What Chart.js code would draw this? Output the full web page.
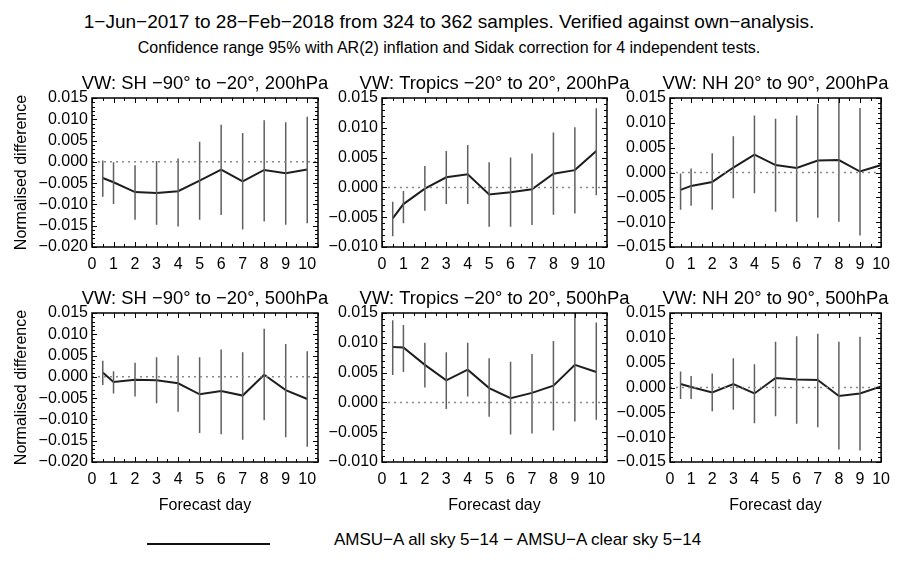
<!DOCTYPE html>
<html><head><meta charset="utf-8">
<script src="https://cdn.jsdelivr.net/npm/chart.js@4.4.1/dist/chart.umd.min.js"></script>
<style>
html,body{margin:0;padding:0;background:#fff;}
body{width:898px;height:563px;position:relative;overflow:hidden;font-family:"Liberation Sans",Arial,sans-serif;color:#000;}
canvas{position:absolute;}
.t{position:absolute;left:0;width:898px;text-align:center;white-space:nowrap;}
</style></head><body>
<div class="t" style="top:11px;font-size:19px;line-height:22px;">1−Jun−2017 to 28−Feb−2018 from 324 to 362 samples. Verified against own−analysis.</div>
<div class="t" style="top:39px;font-size:16px;line-height:18px;">Confidence range 95% with AR(2) inflation and Sidak correction for 4 independent tests.</div>
<div style="position:absolute;left:147px;top:543px;width:123px;height:2px;background:#111;"></div>
<div style="position:absolute;left:334px;top:530px;font-size:17px;line-height:20px;white-space:nowrap;">AMSU−A all sky 5−14 − AMSU−A clear sky 5−14</div>
<script>
// ---------- data ----------
const days = [0.5, 1, 2, 3, 4, 5, 6, 7, 8, 9, 10];
const xTickLabels = [0, 1, 2, 3, 4, 5, 6, 7, 8, 9, 10];

const titles = [
  "VW: SH −90° to −20°, 200hPa",
  "VW: Tropics −20° to 20°, 200hPa",
  "VW: NH 20° to 90°, 200hPa",
  "VW: SH −90° to −20°, 500hPa",
  "VW: Tropics −20° to 20°, 500hPa",
  "VW: NH 20° to 90°, 500hPa"
];

const meanSH200 = [-0.0038, -0.0048, -0.0071, -0.0073, -0.0069, -0.0044, -0.0018, -0.0046, -0.0019, -0.0027, -0.0018];
const loSH200   = [-0.0082, -0.0099, -0.0136, -0.0148, -0.0152, -0.0136, -0.0125, -0.0159, -0.0140, -0.0148, -0.0144];
const hiSH200   = [ 0.0003, -0.0001, -0.0008,  0.0002,  0.0008,  0.0047,  0.0087,  0.0068,  0.0098,  0.0093,  0.0106];

const meanTR200 = [-0.0052, -0.0028, -0.0002,  0.0017,  0.0022, -0.0012, -0.0008, -0.0003,  0.0023,  0.0029,  0.0061];
const loTR200   = [-0.0082, -0.0060, -0.0039, -0.0028, -0.0028, -0.0066, -0.0066, -0.0063, -0.0046, -0.0044, -0.0013];
const hiTR200   = [-0.0024, -0.0006,  0.0036,  0.0061,  0.0071,  0.0042,  0.0050,  0.0057,  0.0092,  0.0101,  0.0133];

const meanNH200 = [-0.0035, -0.0027, -0.0019,  0.0010,  0.0036,  0.0015,  0.0009,  0.0024,  0.0025,  0.0002,  0.0015];
const loNH200   = [-0.0075, -0.0067, -0.0075, -0.0052, -0.0042, -0.0079, -0.0099, -0.0091, -0.0099, -0.0127, -0.0114];
const hiNH200   = [-0.0002,  0.0008,  0.0039,  0.0073,  0.0115,  0.0108,  0.0115,  0.0138,  0.0152,  0.0130,  0.0152];

const meanSH500 = [ 0.0010, -0.0012, -0.0007, -0.0008, -0.0015, -0.0041, -0.0033, -0.0044,  0.0005, -0.0031, -0.0052];
const loSH500   = [-0.0019, -0.0039, -0.0046, -0.0062, -0.0082, -0.0132, -0.0135, -0.0148, -0.0102, -0.0142, -0.0164];
const hiSH500   = [ 0.0038,  0.0013,  0.0033,  0.0046,  0.0050,  0.0046,  0.0064,  0.0058,  0.0113,  0.0077,  0.0060];

const meanTR500 = [ 0.0093,  0.0092,  0.0063,  0.0037,  0.0055,  0.0024,  0.0007,  0.0016,  0.0028,  0.0063,  0.0051];
const loTR500   = [ 0.0046,  0.0051,  0.0025, -0.0011,  0.0010, -0.0024, -0.0054, -0.0052, -0.0047, -0.0032, -0.0029];
const hiTR500   = [ 0.0138,  0.0130,  0.0100,  0.0084,  0.0100,  0.0074,  0.0068,  0.0081,  0.0103,  0.0152,  0.0134];

const meanNH500 = [ 0.0007,  0.0001, -0.0010,  0.0007, -0.0012,  0.0019,  0.0016,  0.0015, -0.0017, -0.0012,  0.0002];
const loNH500   = [-0.0023, -0.0023, -0.0048, -0.0045, -0.0072, -0.0058, -0.0073, -0.0080, -0.0125, -0.0127, -0.0110];
const hiNH500   = [ 0.0032,  0.0023,  0.0028,  0.0059,  0.0047,  0.0092,  0.0103,  0.0108,  0.0092,  0.0102,  0.0115];

const yTicksSH = [-0.020, -0.015, -0.010, -0.005, 0.000, 0.005, 0.010, 0.015];
const yTicksTR = [-0.010, -0.005, 0.000, 0.005, 0.010, 0.015];
const yTicksNH = [-0.015, -0.010, -0.005, 0.000, 0.005, 0.010, 0.015];

const xMaxWide = 10.5;
const xMaxEdge = 10;

// ---------- layout ----------
const FONT = '"Liberation Sans", Arial, sans-serif';
const panels = [
  {mean: meanSH200, lo: loSH200, hi: hiSH200, yt: yTicksSH, xmax: xMaxWide, left: 0,   top: 73,  yw: 92, rp: 17, w: 335, row: 0, col: 0},
  {mean: meanTR200, lo: loTR200, hi: hiTR200, yt: yTicksTR, xmax: xMaxWide, left: 322, top: 73,  yw: 60, rp: 33, w: 318, row: 0, col: 1},
  {mean: meanNH200, lo: loNH200, hi: hiNH200, yt: yTicksNH, xmax: xMaxEdge, left: 610, top: 73,  yw: 60, rp: 13, w: 288, row: 0, col: 2},
  {mean: meanSH500, lo: loSH500, hi: hiSH500, yt: yTicksSH, xmax: xMaxWide, left: 0,   top: 288, yw: 92, rp: 17, w: 335, row: 1, col: 0},
  {mean: meanTR500, lo: loTR500, hi: hiTR500, yt: yTicksTR, xmax: xMaxWide, left: 322, top: 288, yw: 60, rp: 33, w: 318, row: 1, col: 1},
  {mean: meanNH500, lo: loNH500, hi: hiNH500, yt: yTicksNH, xmax: xMaxEdge, left: 610, top: 288, yw: 60, rp: 13, w: 288, row: 1, col: 2}
];

const boxPlugin = {
  id: 'boxTicks',
  afterDatasetsDraw(chart, args, opts) {
    const {ctx, chartArea: a, scales: {x, y}} = chart;
    ctx.save();
    ctx.strokeStyle = '#000';
    ctx.lineWidth = 1;
    ctx.beginPath();
    for (let k = 0; k <= Math.round(x.max * 2); k++) {
      const v = k / 2;
      const px = Math.round(x.getPixelForValue(v)) + 0.5;
      const len = (k % 2 === 0) ? 5 : 3;
      ctx.moveTo(px, a.bottom); ctx.lineTo(px, a.bottom - len);
      ctx.moveTo(px, a.top); ctx.lineTo(px, a.top + len);
    }
    const steps = Math.round((y.max - y.min) / 0.001);
    for (let k = 0; k <= steps; k++) {
      const v = y.min + k * 0.001;
      const py = Math.round(y.getPixelForValue(v)) + 0.5;
      const len = (k % 5 === 0) ? 5 : 3;
      ctx.moveTo(a.left, py); ctx.lineTo(a.left + len, py);
      ctx.moveTo(a.right, py); ctx.lineTo(a.right - len, py);
    }
    ctx.stroke();
    ctx.lineWidth = 1.5;
    ctx.strokeRect(a.left, a.top, a.right - a.left, a.bottom - a.top);
    ctx.fillStyle = '#000';
    ctx.font = '18.4px ' + FONT;
    ctx.textAlign = 'center';
    ctx.textBaseline = 'alphabetic';
    ctx.fillText(opts.text, (a.left + a.right) / 2, a.top - 9);
    ctx.restore();
  }
};

const fmtY = v => (v < -1e-9 ? '−' : '') + Math.abs(v).toFixed(3);

panels.forEach((p, i) => {
  const c = document.createElement('canvas');
  const xh = p.row === 1 ? 55 : 30;
  const h = 25 + 149 + xh;
  c.width = p.w; c.height = h;
  c.style.left = p.left + 'px'; c.style.top = p.top + 'px';
  c.style.width = p.w + 'px'; c.style.height = h + 'px';
  document.body.appendChild(c);

  const errPts = [];
  days.forEach((d, k) => {
    errPts.push({x: d, y: p.lo[k]}, {x: d, y: p.hi[k]}, {x: d, y: null});
  });

  new Chart(c, {
    type: 'line',
    data: {
      datasets: [
        {data: [{x: 0, y: 0}, {x: p.xmax, y: 0}], borderColor: '#8a8a8a', borderWidth: 1.5, borderDash: [2, 4], pointRadius: 0, fill: false},
        {data: errPts, borderColor: '#606060', borderWidth: 1.5, pointRadius: 0, spanGaps: false, fill: false},
        {data: days.map((d, k) => ({x: d, y: p.mean[k]})), borderColor: '#1e1e1e', borderWidth: 2, pointRadius: 0, fill: false, tension: 0}
      ]
    },
    options: {
      responsive: false, animation: false, devicePixelRatio: 1,
      layout: {padding: {top: 25, right: p.rp, left: 0, bottom: 0}},
      plugins: {legend: {display: false}, tooltip: {enabled: false}, boxTicks: {text: titles[i]}},
      scales: {
        x: {
          type: 'linear', min: 0, max: p.xmax,
          grid: {display: false, drawTicks: false}, border: {display: false},
          afterBuildTicks: s => { s.ticks = xTickLabels.map(v => ({value: v})); },
          afterFit: s => { s.height = xh; },
          ticks: {padding: 8, color: '#000', font: {size: 16, family: FONT}, maxRotation: 0, autoSkip: false, callback: v => String(v)},
          title: {display: p.row === 1, text: 'Forecast day', color: '#000', font: {size: 16, family: FONT}, padding: {top: 0, bottom: 2}}
        },
        y: {
          type: 'linear', min: p.yt[0], max: p.yt[p.yt.length - 1],
          grid: {display: false, drawTicks: false}, border: {display: false},
          afterBuildTicks: s => { s.ticks = p.yt.map(v => ({value: v})); },
          afterFit: s => { s.width = p.yw; },
          ticks: {padding: 4, color: '#000', font: {size: 16, family: FONT}, autoSkip: false, callback: v => fmtY(v)},
          title: {display: p.col === 0, text: 'Normalised difference', color: '#000', font: {size: 16, family: FONT}, padding: {top: 12, bottom: 0}}
        }
      }
    },
    plugins: [boxPlugin]
  });
});
</script>
</body></html>
